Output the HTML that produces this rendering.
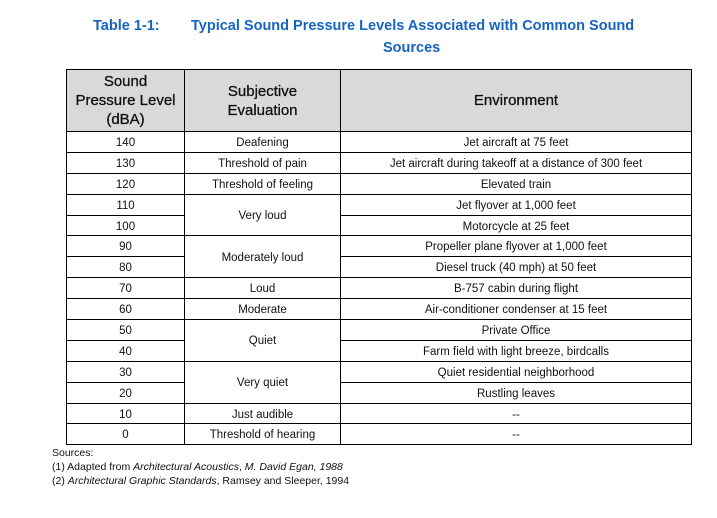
<!DOCTYPE html>
<html><head><meta charset="utf-8"><style>
body{margin:0;width:717px;height:518px;background:#fff;font-family:"Liberation Sans",sans-serif;position:relative;overflow:hidden}
.t{position:absolute;color:#1565c0;font-weight:bold;font-size:14.5px;white-space:nowrap}
table{position:absolute;left:66px;top:69px;border-collapse:collapse;table-layout:fixed;width:625px}
td,th{border:1px solid #000;text-align:center;font-size:11.5px;color:#111;height:17.9px;padding:2px 0 0 0;line-height:12px}
th{background:#d9d9d9;font-size:15px;font-weight:normal;line-height:19px;height:61px;padding:0;color:#111;-webkit-text-stroke:0.3px #111}
.f{position:absolute;left:52px;font-size:10.5px;color:#111;white-space:nowrap}
</style></head><body>
<div class="t" style="left:93px;top:18px">Table 1-1:</div>
<div class="t" style="left:191px;top:18px">Typical Sound Pressure Levels Associated with Common Sound</div>
<div class="t" style="left:383px;top:40px">Sources</div>
<table>
<colgroup><col style="width:118px"><col style="width:156px"><col style="width:351px"></colgroup>
<tr><th>Sound<br>Pressure Level<br>(dBA)</th><th>Subjective<br>Evaluation</th><th>Environment</th></tr>
<tr><td>140</td><td>Deafening</td><td>Jet aircraft at 75 feet</td></tr>
<tr><td>130</td><td>Threshold of pain</td><td>Jet aircraft during takeoff at a distance of 300 feet</td></tr>
<tr><td>120</td><td>Threshold of feeling</td><td>Elevated train</td></tr>
<tr><td>110</td><td rowspan="2">Very loud</td><td>Jet flyover at 1,000 feet</td></tr>
<tr><td>100</td><td>Motorcycle at 25 feet</td></tr>
<tr><td>90</td><td rowspan="2">Moderately loud</td><td>Propeller plane flyover at 1,000 feet</td></tr>
<tr><td>80</td><td>Diesel truck (40 mph) at 50 feet</td></tr>
<tr><td>70</td><td>Loud</td><td>B-757 cabin during flight</td></tr>
<tr><td>60</td><td>Moderate</td><td>Air-conditioner condenser at 15 feet</td></tr>
<tr><td>50</td><td rowspan="2">Quiet</td><td>Private Office</td></tr>
<tr><td>40</td><td>Farm field with light breeze, birdcalls</td></tr>
<tr><td>30</td><td rowspan="2">Very quiet</td><td>Quiet residential neighborhood</td></tr>
<tr><td>20</td><td>Rustling leaves</td></tr>
<tr><td>10</td><td>Just audible</td><td>--</td></tr>
<tr><td>0</td><td>Threshold of hearing</td><td>--</td></tr>
</table>
<div class="f" style="top:447px">Sources:</div>
<div class="f" style="top:461px">(1) Adapted from <i>Architectural Acoustics</i>, <i>M. David Egan, 1988</i></div>
<div class="f" style="top:475px">(2) <i>Architectural Graphic Standards</i>, Ramsey and Sleeper, 1994</div>
</body></html>
